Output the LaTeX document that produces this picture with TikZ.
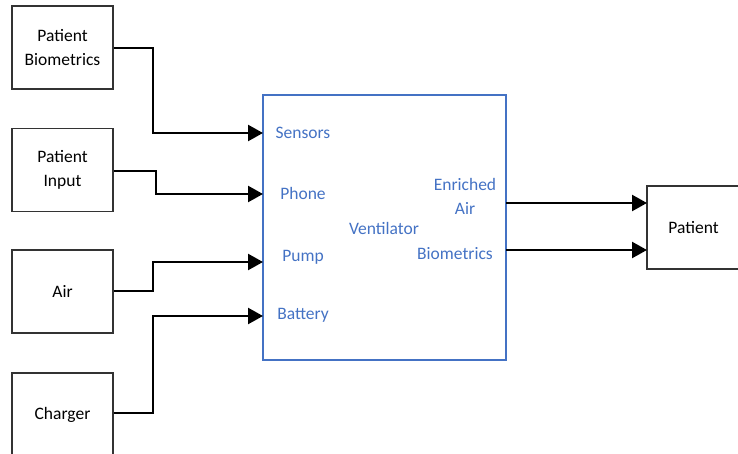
\documentclass[tikz,border=0pt]{standalone}
\usepackage{fontspec}
\setmainfont{Carlito}
\usetikzlibrary{arrows.meta}
\definecolor{lblblue}{HTML}{4472C4}
\definecolor{boxgray}{HTML}{333333}
\tikzset{
  srcbox/.style={draw=boxgray, line width=1.7pt, minimum width=101pt, minimum height=83pt, inner sep=0pt, align=center, font=\fontsize{17.5}{24}\selectfont},
  conn/.style={line width=2.4pt, -{Triangle[length=15pt,width=16pt]}},
  lbl/.style={text=lblblue, font=\fontsize{17.5}{24}\selectfont, align=center, inner sep=0pt}
}
\begin{document}
\begin{tikzpicture}[x=1pt,y=-1pt]
\useasboundingbox (0,0) rectangle (738,454);
\begin{scope}
\clip (0,0) rectangle (738,454);
% source boxes
\node[srcbox] (bio) at (62.5,47.5) {Patient\\Biometrics};
\node[srcbox] (inp) at (62.5,170) {Patient\\Input};
\node[srcbox] (air) at (62.5,291.5) {Air};
\node[srcbox] (chg) at (62.5,414.5) {Charger};
% ventilator
\node[draw=lblblue, line width=1.7pt, minimum width=243pt, minimum height=265pt, inner sep=0pt] (vent) at (384.5,227.5) {};
% patient
\node[srcbox, minimum width=93pt] (pat) at (693.5,227.5) {Patient};
% coordinates on ventilator edge
\coordinate (inS) at (263,133);
\coordinate (inP) at (263,194);
\coordinate (inU) at (263,262);
\coordinate (inB) at (263,316);
\coordinate (outA) at (506,203);
\coordinate (outB) at (506,250);
\coordinate (patA) at (647,203);
\coordinate (patB) at (647,250);
% connectors
\draw[conn] (bio.east |- 0,48) -- (153,48) -- (153,133) -- (inS);
\draw[conn] (inp.east |- 0,171) -- (156,171) -- (156,194) -- (inP);
\draw[conn] (air.east |- 0,291) -- (153,291) -- (153,262) -- (inU);
\draw[conn] (chg.east |- 0,413) -- (153,413) -- (153,316) -- (inB);
\draw[conn] (outA) -- (patA);
\draw[conn] (outB) -- (patB);
% labels
\node[lbl] (ls) at (303,133) {Sensors};
\node[lbl] (lp) at (303,193) {Phone};
\node[lbl] (lu) at (303,257) {Pump};
\node[lbl] (lb) at (303,315) {Battery};
\node[lbl] (lv) at (384,228) {Ventilator};
\node[lbl] (le) at (465,196) {Enriched\\Air};
\node[lbl] (lbm) at (455,254) {Biometrics};
\end{scope}
\end{tikzpicture}
\end{document}
